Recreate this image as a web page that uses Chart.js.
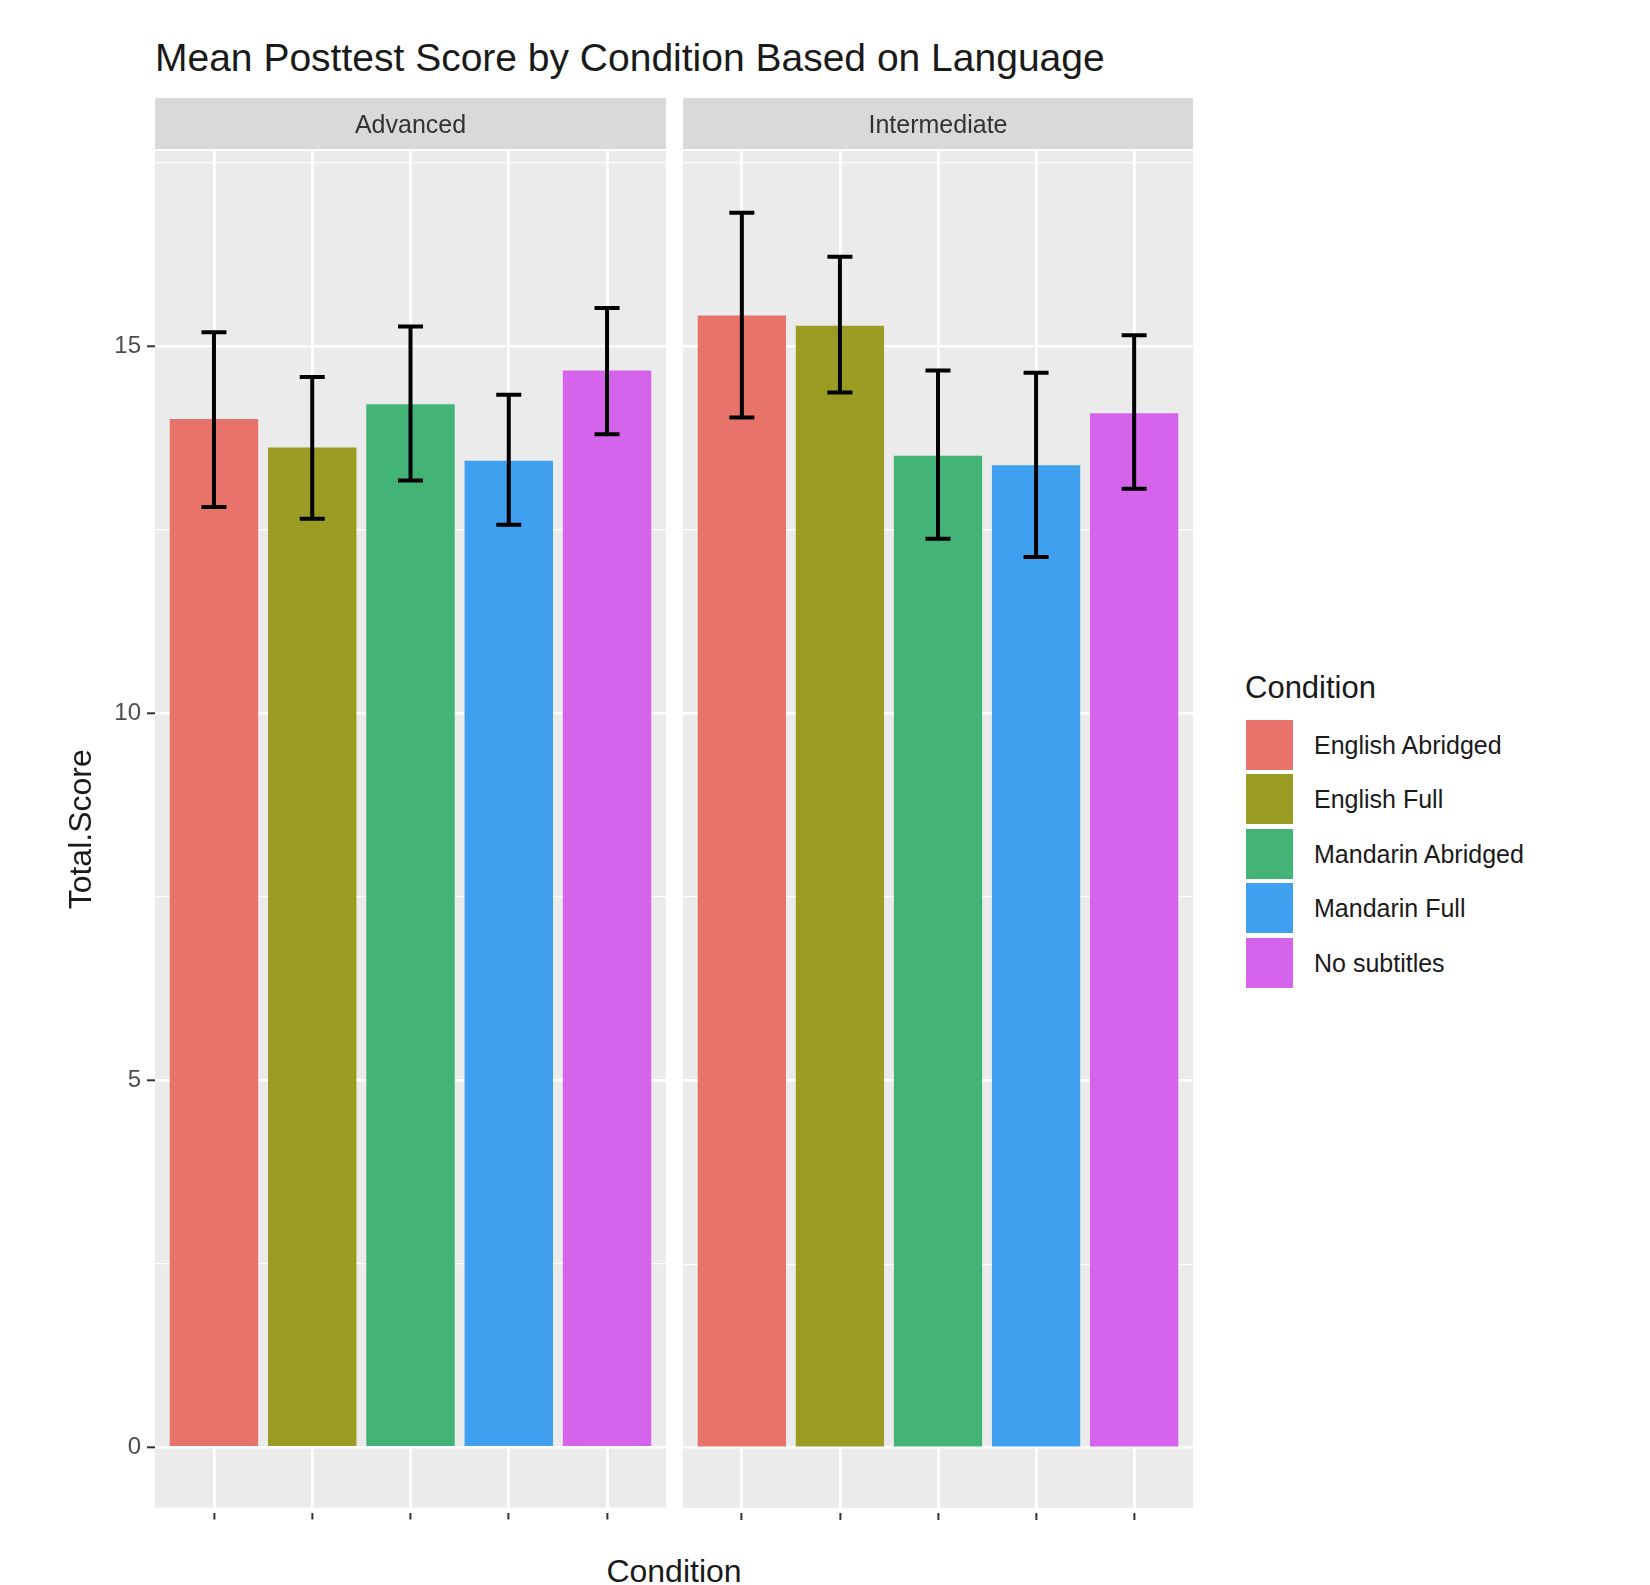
<!DOCTYPE html>
<html>
<head>
<meta charset="utf-8">
<title>Mean Posttest Score by Condition Based on Language</title>
<script src="https://cdn.jsdelivr.net/npm/chart.js@4/dist/chart.umd.min.js"></script>
<style>
  html, body { margin: 0; padding: 0; background: #ffffff; }
  body {
    width: 1650px; height: 1585px; position: relative; overflow: hidden;
    font-family: "Liberation Sans", Arial, Helvetica, sans-serif;
  }
  .abs { position: absolute; white-space: nowrap; }
  #mainTitle { left: 155px; top: 38px; font-size: 39px; line-height: 39px; color: #1a1a1a; }
  #xTitle { left: 0; width: 1348px; text-align: center; top: 1555px; font-size: 32px; line-height: 32px; color: #1a1a1a; }
  #legendTitle { left: 1245px; top: 672px; font-size: 31px; line-height: 31px; color: #1a1a1a; }
  .key { position: absolute; width: 47px; height: 50px; }
  .keyLabel { position: absolute; font-size: 25px; line-height: 25px; color: #1a1a1a; white-space: nowrap; }
  #advWrap { left: 0; top: 0; width: 666px; height: 1528px; }
  #intWrap { left: 683px; top: 0; width: 510px; height: 1528px; }
</style>
</head>
<body>
<div id="mainTitle" class="abs">Mean Posttest Score by Condition Based on Language</div>
<div id="advWrap" class="abs"><canvas id="advChart" width="666" height="1528"></canvas></div>
<div id="intWrap" class="abs"><canvas id="intChart" width="510" height="1528"></canvas></div>
<div id="xTitle" class="abs">Condition</div>
<div id="legendTitle" class="abs">Condition</div>
<div id="legend"></div>

<script>
// Conditions shown in each facet, in plotting order
const conditions = ['English Abridged', 'English Full', 'Mandarin Abridged', 'Mandarin Full', 'No subtitles'];
const conditionColors = ['#E8736A', '#9A9C24', '#43B475', '#3EA0EE', '#D563EB'];

// Facet labels (language proficiency)
const facetLabels = ['Advanced', 'Intermediate'];

// Mean Total.Score and error-bar bounds, Advanced group
const advancedMean = [14.01, 13.62, 14.21, 13.44, 14.67];
const advancedLow  = [12.81, 12.65, 13.17, 12.57, 13.80];
const advancedHigh = [15.19, 14.58, 15.27, 14.34, 15.52];

// Mean Total.Score and error-bar bounds, Intermediate group
const intermediateMean = [15.42, 15.28, 13.51, 13.38, 14.09];
const intermediateLow  = [14.03, 14.37, 12.38, 12.13, 13.06];
const intermediateHigh = [16.82, 16.22, 14.67, 14.64, 15.15];

// Y axis breaks
const yMajorTicks = [0, 5, 10, 15];
const yMinorTicks = [2.5, 7.5, 12.5, 17.5];
const yRange = [-0.82, 17.66];

const PANEL_BG = '#EBEBEB';
const STRIP_BG = '#D9D9D9';

// Panel background + facet strip
const panelPlugin = {
  id: 'panelPlugin',
  beforeDraw(chart, args, opts) {
    const { ctx, chartArea: a } = chart;
    ctx.save();
    ctx.fillStyle = PANEL_BG;
    ctx.fillRect(a.left, a.top, a.right - a.left, a.bottom - a.top);
    ctx.fillStyle = STRIP_BG;
    ctx.fillRect(a.left, a.top - 53, a.right - a.left, 51);
    ctx.fillStyle = '#333333';
    ctx.font = '25px "Liberation Sans", Arial, sans-serif';
    ctx.textAlign = 'center';
    ctx.textBaseline = 'middle';
    ctx.fillText(opts.label, (a.left + a.right) / 2, a.top - 25);
    ctx.restore();
  }
};

// Error bars with caps
const errorBarPlugin = {
  id: 'errorBarPlugin',
  afterDatasetsDraw(chart, args, opts) {
    const { ctx } = chart;
    const xs = chart.scales.x, ys = chart.scales.y;
    ctx.save();
    ctx.strokeStyle = '#000000';
    ctx.lineWidth = 4;
    ctx.lineCap = 'butt';
    opts.low.forEach((lo, i) => {
      const x = xs.getPixelForValue(i + 1);
      const y1 = ys.getPixelForValue(lo);
      const y2 = ys.getPixelForValue(opts.high[i]);
      const half = 12.5;
      ctx.beginPath();
      ctx.moveTo(x, y1); ctx.lineTo(x, y2);
      ctx.moveTo(x - half, y1); ctx.lineTo(x + half, y1);
      ctx.moveTo(x - half, y2); ctx.lineTo(x + half, y2);
      ctx.stroke();
    });
    ctx.restore();
  }
};

function makeFacet(canvasId, label, means, low, high, withYAxis) {
  const allY = yMinorTicks.concat(yMajorTicks).sort((a, b) => a - b);
  return new Chart(document.getElementById(canvasId), {
    type: 'bar',
    data: {
      datasets: [{
        data: means.map((v, i) => ({ x: i + 1, y: v })),
        backgroundColor: conditionColors,
        borderWidth: 0,
        barPercentage: 0.9,
        categoryPercentage: 1.0
      }]
    },
    plugins: [panelPlugin, errorBarPlugin],
    options: {
      responsive: false,
      devicePixelRatio: 1,
      animation: false,
      layout: { padding: { top: 151, left: 0, right: 0, bottom: 0 } },
      plugins: {
        legend: { display: false },
        tooltip: { enabled: false },
        panelPlugin: { label: label },
        errorBarPlugin: { low: low, high: high }
      },
      scales: {
        x: {
          type: 'linear',
          min: 0.4,
          max: 5.6,
          offset: false,
          afterBuildTicks: (s) => { s.ticks = conditions.map((c, i) => ({ value: i + 1 })); },
          afterFit: (s) => { s.height = 20; },
          ticks: { display: false },
          border: { display: false },
          grid: {
            offset: false,
            color: '#FFFFFF',
            lineWidth: 2.8,
            drawTicks: true,
            tickLength: 12,
            tickColor: '#333333',
            tickWidth: 2,
            tickBorderDash: [0, 5, 7, 60]
          }
        },
        y: {
          type: 'linear',
          min: yRange[0],
          max: yRange[1],
          afterBuildTicks: (s) => { s.ticks = allY.map(v => ({ value: v })); },
          afterFit: (s) => { s.width = withYAxis ? 155 : 0; },
          border: { display: false },
          title: {
            display: withYAxis,
            text: 'Total.Score',
            color: '#1a1a1a',
            font: { family: '"Liberation Sans", Arial, sans-serif', size: 32 },
            padding: { top: 63, bottom: 0 }
          },
          ticks: {
            display: withYAxis,
            padding: 6,
            color: '#4D4D4D',
            font: { family: '"Liberation Sans", Arial, sans-serif', size: 24 },
            callback: (v) => yMajorTicks.includes(v) ? String(v) : ''
          },
          grid: {
            color: '#FFFFFF',
            lineWidth: (c) => yMajorTicks.includes(c.tick.value) ? 2.6 : 1.2,
            drawTicks: withYAxis,
            tickLength: 8,
            tickWidth: 2,
            tickColor: (c) => yMajorTicks.includes(c.tick.value) ? '#333333' : 'rgba(0,0,0,0)'
          }
        }
      }
    }
  });
}

makeFacet('advChart', facetLabels[0], advancedMean, advancedLow, advancedHigh, true);
makeFacet('intChart', facetLabels[1], intermediateMean, intermediateLow, intermediateHigh, false);

// Legend: one coloured key per condition
const legend = document.getElementById('legend');
conditions.forEach((name, i) => {
  const top = 720 + i * 54.4;
  const key = document.createElement('div');
  key.className = 'key';
  key.style.left = '1246px';
  key.style.top = top + 'px';
  key.style.background = conditionColors[i];
  legend.appendChild(key);
  const lab = document.createElement('div');
  lab.className = 'keyLabel';
  lab.style.left = '1314px';
  lab.style.top = (top + 13) + 'px';
  lab.textContent = name;
  legend.appendChild(lab);
});
</script>
</body>
</html>
